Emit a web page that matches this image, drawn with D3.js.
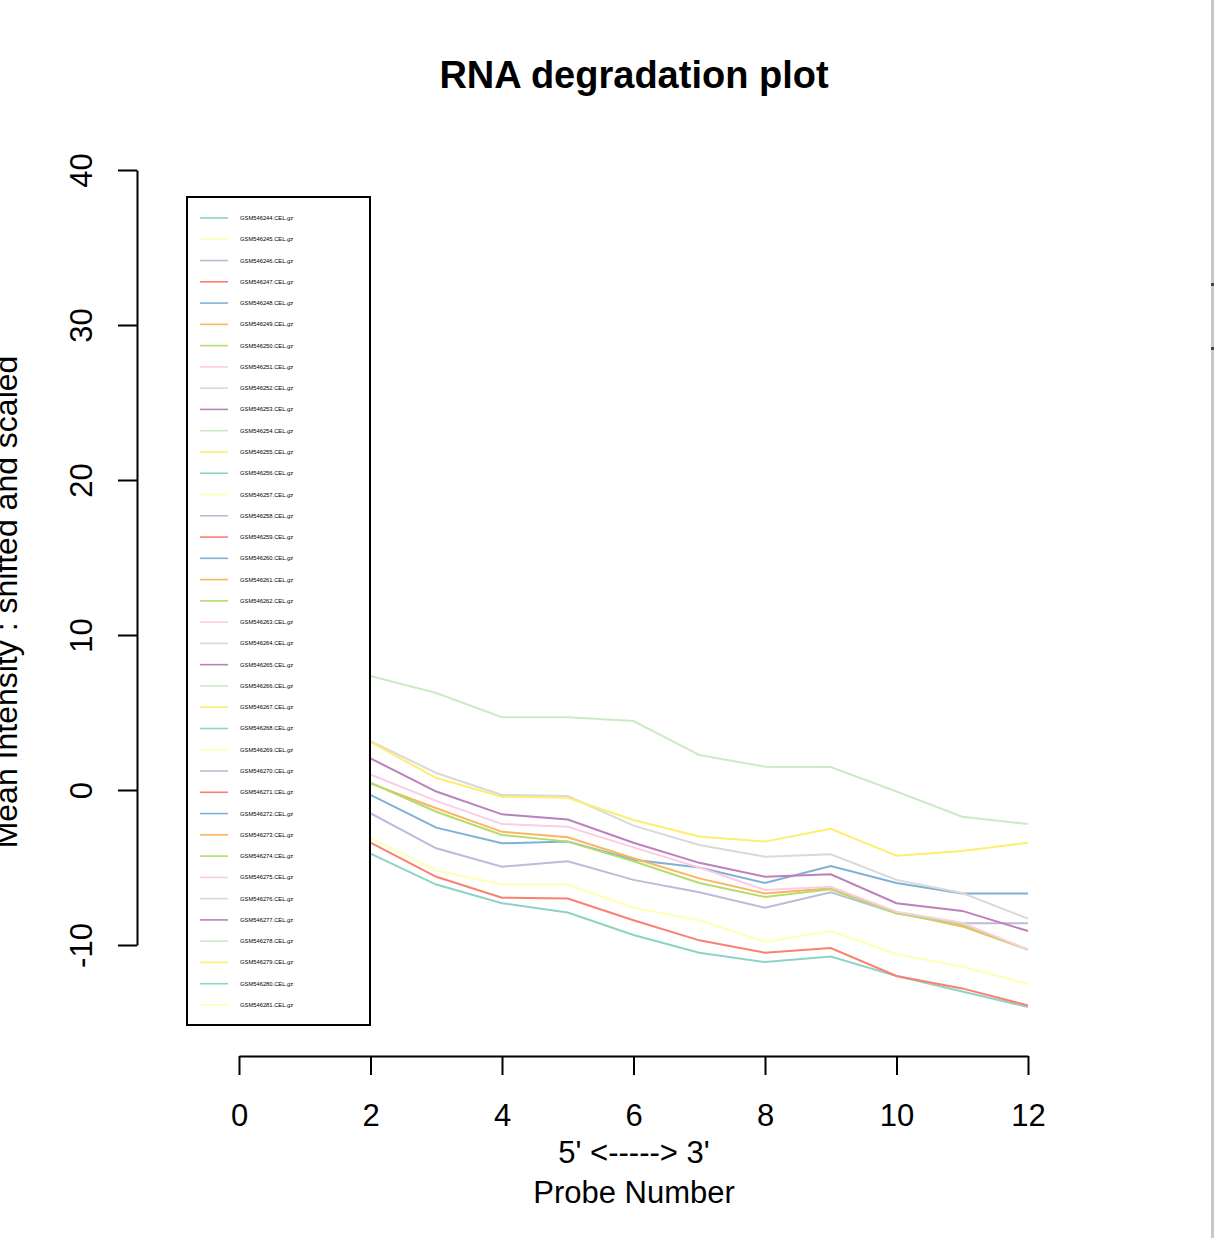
<!DOCTYPE html>
<html lang="en">
  <head>
    <meta charset="utf-8" />
    <title>RNA degradation plot</title>
    <script src="https://d3js.org/d3.v7.min.js"></script>
    <style>
      body {
        margin: 0;
        background: white;
      }
      text {
        font-family: "Liberation Sans", Arial, sans-serif;
        fill: black;
      }
      .axis path,
      .axis line {
        stroke: black;
        stroke-width: 2;
      }
      .curve {
        fill: none;
        stroke-width: 2;
      }
    </style>
  </head>
  <body>
    <div id="chart"></div>
    <script>
      let width = 1214;
      let height = 1238;

      // Probe positions visible to the right of the legend box
      let probeNumbers = [2, 3, 4, 5, 6, 7, 8, 9, 10, 11, 12];

      // Set3 palette, recycled over the samples
      let palette = [
        "#8DD3C7", "#FFFFB3", "#BEBADA", "#FB8072", "#80B1D3", "#FDB462",
        "#B3DE69", "#FCCDE5", "#D9D9D9", "#BC80BD", "#CCEBC5", "#FFED6F",
      ];

      // one visible profile per palette colour
      let teal     = [-4.1, -6.1, -7.3, -7.9, -9.35, -10.5, -11.1, -10.75, -12.0, -13.0, -14.0];
      let ltYellow = [-3.1, -5.2, -6.1, -6.1, -7.6, -8.4, -9.8, -9.1, -10.6, -11.4, -12.5];
      let lavender = [-1.5, -3.76, -4.95, -4.6, -5.8, -6.6, -7.6, -6.6, -7.96, -8.6, -8.6];
      let red      = [-3.4, -5.6, -6.95, -7.0, -8.4, -9.7, -10.5, -10.2, -12.0, -12.8, -13.9];
      let blue     = [-0.32, -2.43, -3.44, -3.33, -4.5, -5.0, -6.0, -4.9, -6.0, -6.67, -6.67];
      let orange   = [0.43, -1.18, -2.7, -3.05, -4.4, -5.7, -6.67, -6.34, -7.9, -8.8, -10.3];
      let green    = [0.47, -1.4, -2.9, -3.33, -4.6, -6.0, -6.9, -6.4, -7.96, -8.7, -10.3];
      let pink     = [1.0, -0.7, -2.2, -2.37, -3.7, -5.0, -6.45, -6.24, -7.85, -8.56, -10.3];
      let grey     = [3.15, 1.1, -0.32, -0.39, -2.3, -3.55, -4.3, -4.15, -5.8, -6.65, -8.3];
      let purple   = [2.04, -0.1, -1.57, -1.9, -3.4, -4.7, -5.6, -5.44, -7.3, -7.8, -9.1];
      let ltGreen  = [7.35, 6.26, 4.7, 4.7, 4.45, 2.26, 1.5, 1.48, -0.1, -1.72, -2.2];
      let yellow   = [3.1, 0.77, -0.43, -0.5, -1.94, -3.0, -3.33, -2.5, -4.24, -3.94, -3.4];
      let profiles = [teal, ltYellow, lavender, red, blue, orange, green, pink, grey, purple, ltGreen, yellow];

      let sampleNames = [];
      for (let id = 546244; id <= 546281; id++) {
        sampleNames.push("GSM" + id + ".CEL.gz");
      }

      let xTicks = [0, 2, 4, 6, 8, 10, 12];
      let yTicks = [-10, 0, 10, 20, 30, 40];

      let svg = d3
        .select("#chart")
        .append("svg")
        .attr("width", width)
        .attr("height", height);

      let x = d3.scaleLinear().domain([0, 12]).range([239, 1028]);
      let y = d3.scaleLinear().domain([-10, 40]).range([945, 170]);

      // plain hyphen for negatives, like R
      let fmt = function (d) {
        return String(d);
      };

      // Lines
      let line = d3
        .line()
        .x(function (d, i) {
          return x(probeNumbers[i]);
        })
        .y(function (d) {
          return y(d);
        });

      svg
        .append("g")
        .selectAll("path")
        .data(profiles)
        .enter()
        .append("path")
        .classed("curve", true)
        .attr("stroke", function (d, i) {
          return palette[i];
        })
        .attr("d", line);

      // Legend (white box drawn over the start of the curves)
      let legend = svg.append("g");
      legend
        .append("rect")
        .attr("x", 187)
        .attr("y", 197)
        .attr("width", 183)
        .attr("height", 828)
        .attr("fill", "white")
        .attr("stroke", "black")
        .attr("stroke-width", 2);

      let rowStep = 21.27;
      let rows = legend
        .selectAll("g.row")
        .data(sampleNames)
        .enter()
        .append("g")
        .attr("class", "row")
        .attr("transform", function (d, i) {
          return "translate(0," + (218 + i * rowStep) + ")";
        });
      rows
        .append("line")
        .attr("x1", 200)
        .attr("x2", 228)
        .attr("stroke", function (d, i) {
          return palette[i % palette.length];
        })
        .attr("stroke-width", 1.6);
      rows
        .append("text")
        .attr("x", 240)
        .attr("y", 2)
        .attr("font-size", 5.8)
        .attr("fill", "#444")
        .text(function (d) {
          return d;
        });

      // Axes
      let xAxis = svg
        .append("g")
        .attr("class", "axis")
        .attr("transform", "translate(0,1056)")
        .call(
          d3.axisBottom(x).tickValues(xTicks).tickFormat(fmt).tickSize(19).tickSizeOuter(0)
        );
      xAxis
        .selectAll("text")
        .attr("y", 70)
        .attr("dy", 0)
        .attr("font-size", 31)
        .attr("font-family", "Liberation Sans, Arial, sans-serif");

      let yAxis = svg
        .append("g")
        .attr("class", "axis")
        .attr("transform", "translate(137,0)")
        .call(
          d3.axisLeft(y).tickValues(yTicks).tickFormat(fmt).tickSize(19).tickSizeOuter(0)
        );
      yAxis
        .selectAll(".tick text")
        .attr("x", null)
        .attr("dy", null)
        .attr("text-anchor", "middle")
        .attr("transform", "translate(-45,0) rotate(-90)")
        .attr("font-size", 31)
        .attr("font-family", "Liberation Sans, Arial, sans-serif");

      // Titles
      svg
        .append("text")
        .attr("x", 634)
        .attr("y", 88)
        .attr("text-anchor", "middle")
        .attr("font-size", 38)
        .attr("font-weight", "bold")
        .text("RNA degradation plot");

      svg
        .append("text")
        .attr("x", 634)
        .attr("y", 1163)
        .attr("text-anchor", "middle")
        .attr("font-size", 31)
        .text("5' <-----> 3'");

      svg
        .append("text")
        .attr("x", 634)
        .attr("y", 1203)
        .attr("text-anchor", "middle")
        .attr("font-size", 31)
        .text("Probe Number");

      // y title sits partly outside the window, as in the original
      svg
        .append("text")
        .attr("transform", "translate(17,602) rotate(-90)")
        .attr("text-anchor", "middle")
        .attr("font-size", 32)
        .text("Mean Intensity : shifted and scaled");

      // window edge at the right
      svg
        .append("rect")
        .attr("x", 1211)
        .attr("y", 0)
        .attr("width", 3)
        .attr("height", height)
        .attr("fill", "#c8c8c8");
      svg
        .selectAll("rect.mark")
        .data([283, 347])
        .enter()
        .append("rect")
        .attr("class", "mark")
        .attr("x", 1211)
        .attr("y", function (d) {
          return d;
        })
        .attr("width", 3)
        .attr("height", 3)
        .attr("fill", "#444");
    </script>
  </body>
</html>
